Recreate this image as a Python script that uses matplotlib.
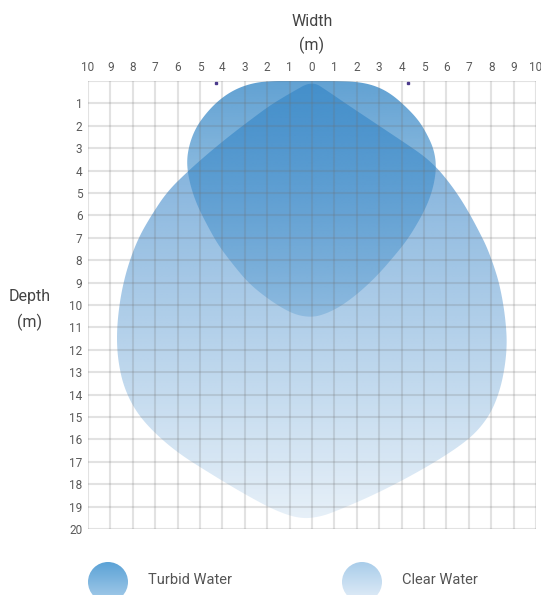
import numpy as np
import matplotlib
matplotlib.use('Agg')
import matplotlib.pyplot as plt
from matplotlib.patches import Polygon, Circle

plt.rcParams['font.family'] = ['Roboto', 'DejaVu Sans']

# axis ticks
width_ticks = list(range(-10, 11))
width_labels = [str(abs(v)) for v in width_ticks]
depth_ticks = list(range(1, 21))
depth_labels = [str(v) for v in depth_ticks]

# outlines (width m, depth m)
turbid_x = [0, 1.0, 2.0, 2.8, 3.5, 4.2, 4.8, 5.2, 5.45, 5.55, 5.45, 5.2, 4.8, 4.25, 3.6, 2.9,
            2.1, 1.3, 0.6, 0, -0.7, -1.4, -2.2, -2.9, -3.6, -4.2, -4.7, -5.15, -5.45, -5.6,
            -5.5, -5.2, -4.7, -4.1, -3.4, -2.6, -1.8, -1.0]
turbid_d = [0, 0, 0.03, 0.2, 0.55, 1.15, 1.8, 2.5, 3.1, 3.8, 4.6, 5.4, 6.2, 7.1, 7.9, 8.7,
            9.45, 10.05, 10.4, 10.55, 10.45, 10.1, 9.55, 8.95, 8.1, 7.3, 6.4, 5.5, 4.6, 3.7,
            2.9, 2.1, 1.4, 0.8, 0.35, 0.08, 0, 0]

clear_x = [0, 0.7, 1.5, 2.4, 3.3, 4.2, 5.0, 5.6, 6.1, 6.6, 7.05, 7.45, 7.8, 8.1, 8.35, 8.55,
           8.67, 8.7, 8.62, 8.42, 8.05, 7.5, 6.8, 5.6, 4.1, 2.6, 1.2, 0.4,
           -0.5, -1.6, -3.0, -4.5, -6.0, -7.15, -7.9, -8.4, -8.64, -8.72, -8.67, -8.5, -8.2,
           -7.75, -7.15, -6.45, -5.54, -4.6, -3.62, -2.7, -1.85, -0.9]
clear_d = [0, 0.45, 1.0, 1.6, 2.2, 2.8, 3.35, 3.9, 4.5, 5.2, 5.95, 6.7, 7.4, 8.2, 9.0, 10.0,
           11.0, 11.8, 12.7, 13.7, 14.7, 15.5, 16.15, 16.95, 17.8, 18.55, 19.15, 19.45,
           19.55, 19.2, 18.45, 17.55, 16.6, 15.6, 14.7, 13.66, 12.6, 11.6, 10.55, 9.36, 8.18,
           7.0, 5.96, 4.92, 4.03, 3.2, 2.4, 1.7, 1.07, 0.5]

marks_x = [-4.3, 4.3]

clear_rgb = (74 / 255, 144 / 255, 205 / 255)
turbid_rgb = (58 / 255, 138 / 255, 200 / 255)
text_col = '#5a5a5a'


def smooth(xs, ds, iters=3):
    # chaikin corner cutting on a closed outline
    p = np.column_stack([xs, ds]).astype(float)
    for _ in range(iters):
        q = np.roll(p, -1, axis=0)
        p = np.column_stack([0.75 * p + 0.25 * q, 0.25 * p + 0.75 * q]).reshape(-1, 2)
    return p


def gradient(rgb, a0, slope, n=400):
    d = np.linspace(0, 20, n)
    img = np.zeros((n, 1, 4))
    img[:, 0, :3] = rgb
    img[:, 0, 3] = np.clip(a0 - slope * d, 0, 1)
    return img


fig = plt.figure(figsize=(5.41, 5.95), dpi=100)

# overlay for legend and titles, 1 unit = 1 pixel
bg = fig.add_axes([0, 0, 1, 1])
bg.set_xlim(0, 541)
bg.set_ylim(595, 0)
bg.axis('off')

ax = fig.add_axes([88 / 541, 66 / 595, 448 / 541, 448 / 595])
ax.set_xlim(-10, 10)
ax.set_ylim(20, 0)

for xs, ds, rgb, a0, sl in [(clear_x, clear_d, clear_rgb, 0.8, 0.034),
                            (turbid_x, turbid_d, turbid_rgb, 0.8, 0.05)]:
    poly = Polygon(smooth(xs, ds), closed=True, facecolor='none', edgecolor='none')
    ax.add_patch(poly)
    im = ax.imshow(gradient(rgb, a0, sl), extent=(-10, 10, 20, 0), origin='upper',
                   interpolation='bilinear', zorder=1)
    im.set_clip_path(poly)

ax.set_aspect('auto')

# grid
ax.vlines(range(-10, 11), 0, 20, colors='#6f6f6f', alpha=0.2, lw=1.5, zorder=3)
ax.hlines(range(0, 21), -10, 10, colors='#6f6f6f', alpha=0.2, lw=1.5, zorder=3)
for s in ax.spines.values():
    s.set_visible(False)

ax.plot(marks_x, [0.08, 0.08], ls='none', marker='s', ms=1.6, color='#4b3a8c',
        clip_on=False, zorder=4)

ax.xaxis.tick_top()
ax.set_xticks(width_ticks)
ax.set_xticklabels(width_labels)
ax.set_yticks(depth_ticks)
ax.set_yticklabels(depth_labels)
ax.tick_params(axis='x', length=0, pad=5, labelsize=8.5, labelcolor=text_col)
ax.tick_params(axis='y', length=0, pad=4, labelsize=8.5, labelcolor=text_col)

# titles
for x, y, s in [(312, 22, 'Width'), (312, 45, '(m)'), (30, 297, 'Depth'), (30, 322, '(m)')]:
    bg.text(x, y, s, ha='center', va='center', fontsize=11.5, color='#444444')

# legend
legend_items = [('Turbid Water', 108, '#5ba2d6', '#a8cdea'),
                ('Clear Water', 362, '#a9cdea', '#e4eef8')]
for label, cx, top_c, bot_c in legend_items:
    circ = Circle((cx, 582), 20, facecolor='none', edgecolor='none')
    bg.add_patch(circ)
    t = np.array(matplotlib.colors.to_rgb(top_c))
    b = np.array(matplotlib.colors.to_rgb(bot_c))
    f = np.linspace(0, 1, 100)[:, None]
    img = (t * (1 - f) + b * f)[:, None, :]
    im = bg.imshow(img, extent=(cx - 20, cx + 20, 602, 562), origin='upper',
                   interpolation='bilinear')
    im.set_clip_path(circ)
    bg.text(cx + 40, 580, label, ha='left', va='center', fontsize=10.5, color='#555555')

bg.set_xlim(0, 541)
bg.set_ylim(595, 0)
bg.set_aspect('auto')

fig.savefig('out.png', dpi=100)
